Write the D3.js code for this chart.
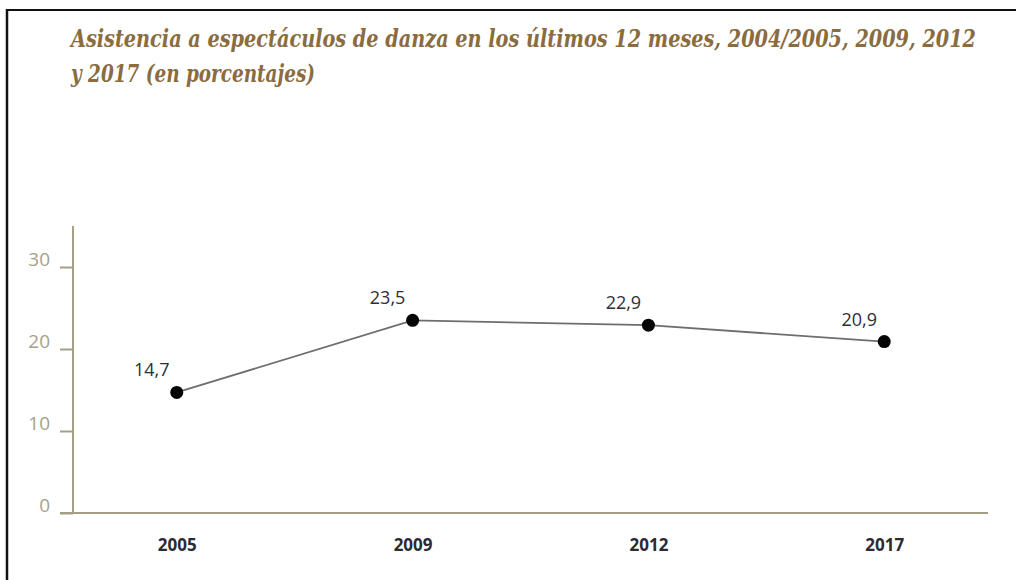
<!DOCTYPE html>
<html>
<head>
<meta charset="utf-8">
<script src="https://cdn.jsdelivr.net/npm/d3@7"></script>
<style>
  html, body { margin: 0; padding: 0; background: #fff; }
  svg { display: block; }
</style>
</head>
<body>
<svg id="chart" width="1016" height="580"></svg>
<script>
const titleLines = [
  "Asistencia a espectáculos de danza en los últimos 12 meses, 2004/2005, 2009, 2012",
  "y 2017 (en porcentajes)"
];
const years = ["2005", "2009", "2012", "2017"];
const values = [14.7, 23.5, 22.9, 20.9];
const valueLabels = ["14,7", "23,5", "22,9", "20,9"];
const yTicks = [0, 10, 20, 30];

const svg = d3.select("#chart");

// frame (top and left edges)
svg.append("line").attr("x1", 6).attr("x2", 1016).attr("y1", 10).attr("y2", 10)
  .attr("stroke", "#111").attr("stroke-width", 2);
svg.append("line").attr("x1", 7).attr("x2", 7).attr("y1", 9).attr("y2", 580)
  .attr("stroke", "#111").attr("stroke-width", 2.5);

// title
const titleWidths = [905, 244];
svg.append("g").selectAll("text").data(titleLines).join("text")
  .attr("transform", (d, i) => `translate(71,${47 + i * 35}) scale(1,1.38)`)
  .attr("x", 0)
  .attr("y", 0)
  .attr("textLength", (d, i) => titleWidths[i])
  .attr("lengthAdjust", "spacingAndGlyphs")
  .attr("font-family", "'DejaVu Serif', 'Liberation Serif', serif")
  .attr("font-style", "italic")
  .attr("font-weight", "bold")
  .attr("font-size", 18)
  .attr("fill", "#8a6c3e")
  .text(d => d);

const x = d3.scalePoint().domain(years).range([73, 988]).padding(0.44);
const y = d3.scaleLinear().domain([0, 35]).range([513, 226]);

const axisColor = "#a69d87";

// y axis
const yAxis = svg.append("g").attr("transform", "translate(73,0)")
  .call(d3.axisLeft(y).tickValues(yTicks).tickSize(13).tickPadding(10).tickFormat(d3.format("d")));
yAxis.select(".domain").attr("stroke", axisColor).attr("stroke-width", 2)
  .attr("d", `M0,${y(35)}V${y(0)}`);
yAxis.selectAll(".tick line").attr("stroke", axisColor).attr("stroke-width", 2);
yAxis.selectAll(".tick text")
  .attr("font-family", "'Open Sans', Lato, sans-serif")
  .attr("font-size", 19)
  .attr("fill", "#a89f88")
  .attr("dy", "-0.1em");

// x axis
const xAxis = svg.append("g").attr("transform", `translate(0,${y(0)})`)
  .call(d3.axisBottom(x).tickSize(0).tickPadding(26));
xAxis.select(".domain").attr("stroke", axisColor).attr("stroke-width", 2)
  .attr("d", "M60,0H988");
xAxis.selectAll(".tick text")
  .attr("font-family", "'Open Sans', Lato, sans-serif")
  .attr("font-weight", "bold")
  .attr("font-size", 17)
  .attr("fill", "#2b2b33");

// line
const line = d3.line().x((d, i) => x(years[i])).y(d => y(d));
svg.append("path").datum(values)
  .attr("d", line)
  .attr("fill", "none")
  .attr("stroke", "#6e6e6e")
  .attr("stroke-width", 1.8);

// points
svg.append("g").selectAll("circle").data(values).join("circle")
  .attr("cx", (d, i) => x(years[i]))
  .attr("cy", d => y(d))
  .attr("r", 6.5)
  .attr("fill", "#050505");

// value labels
svg.append("g").selectAll("text").data(values).join("text")
  .attr("x", (d, i) => x(years[i]) - 25)
  .attr("y", d => y(d) - 16)
  .attr("text-anchor", "middle")
  .attr("font-family", "'Open Sans', Lato, sans-serif")
  .attr("font-size", 18)
  .attr("fill", "#2e2e36")
  .text((d, i) => valueLabels[i]);
</script>
</body>
</html>
